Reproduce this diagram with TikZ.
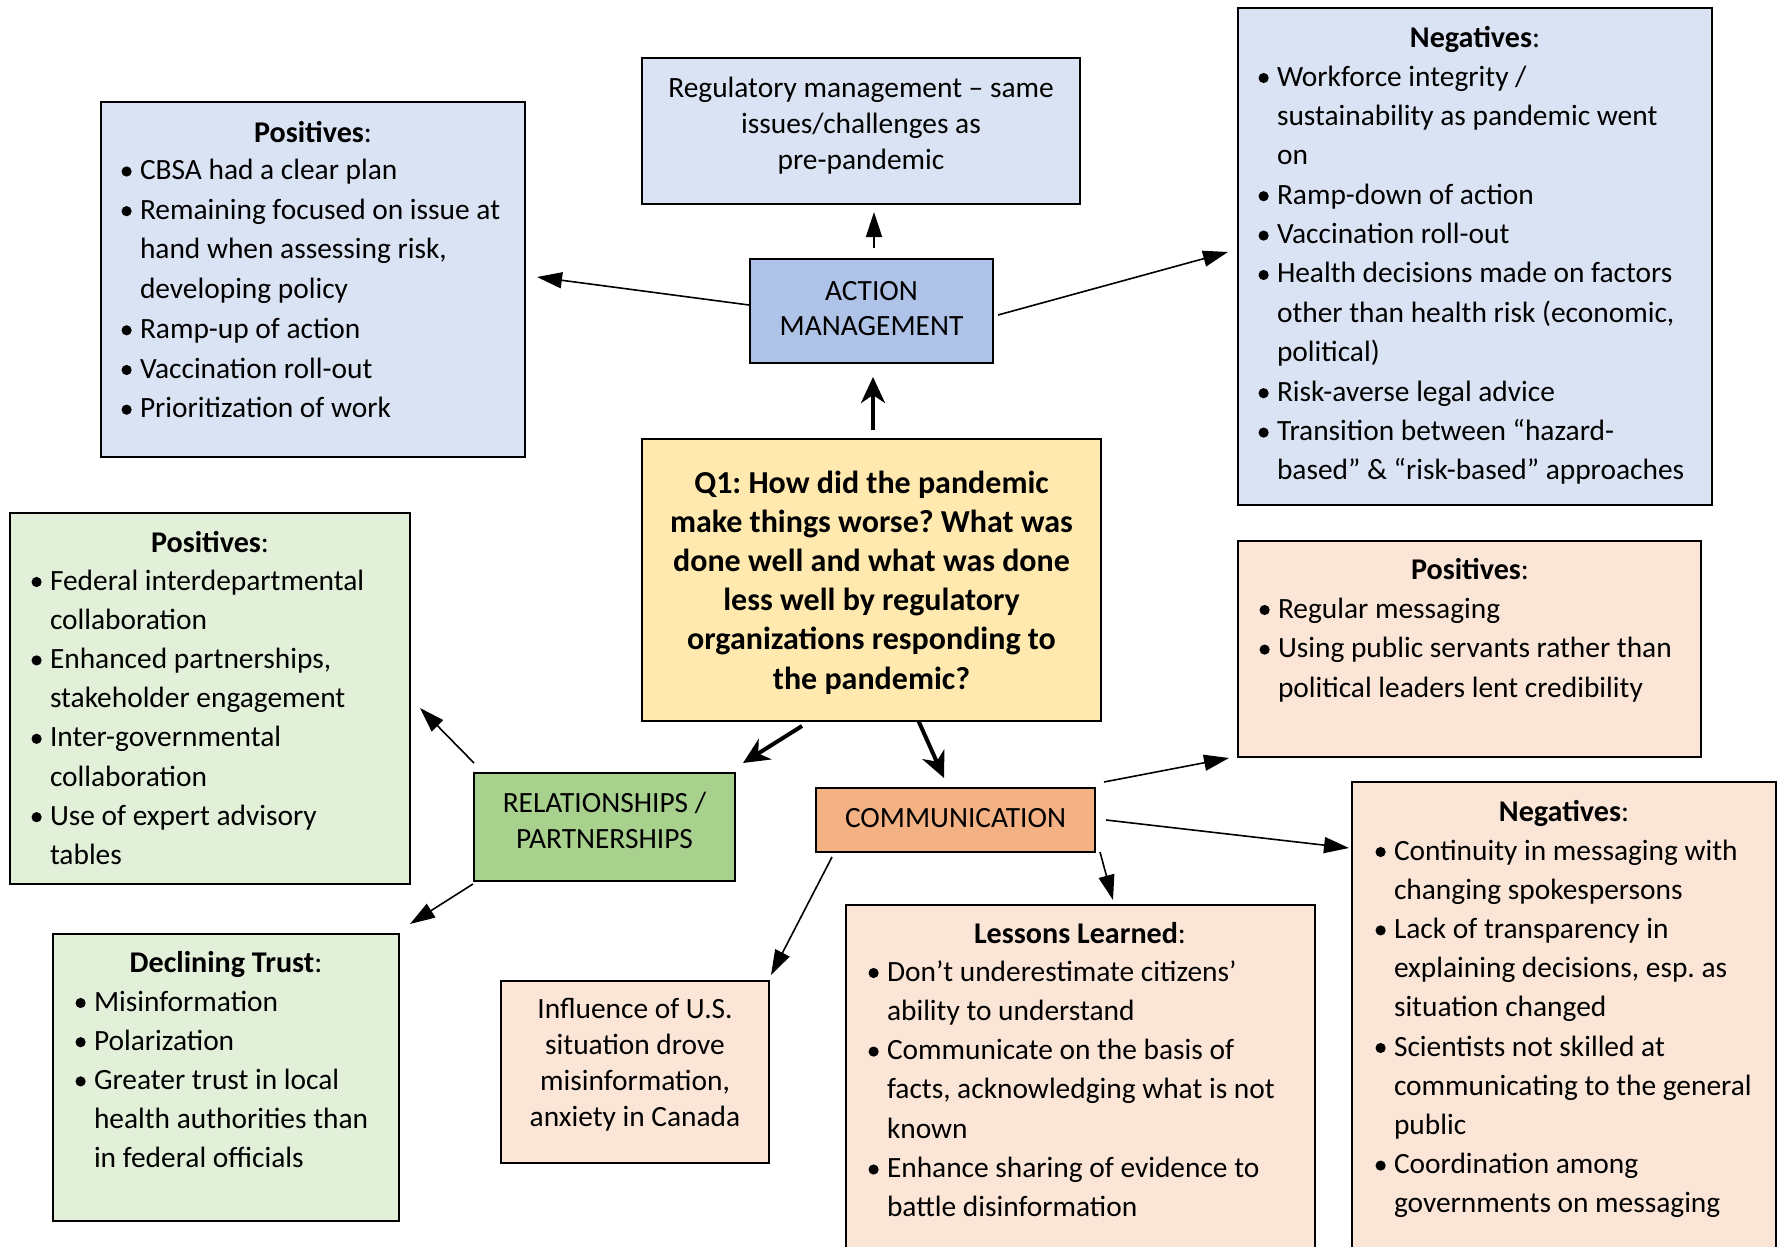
\documentclass[tikz,border=0pt]{standalone}
\usepackage{fontspec}
\setmainfont{Carlito}
\usetikzlibrary{arrows.meta}
\definecolor{lblue}{HTML}{DAE3F3}
\definecolor{mblue}{HTML}{AFC3E8}
\definecolor{lgreen}{HTML}{E2F0D9}
\definecolor{mgreen}{HTML}{A9D18E}
\definecolor{lorange}{HTML}{FBE5D6}
\definecolor{morange}{HTML}{F4B183}
\definecolor{lgold}{HTML}{FFE9AE}
\frenchspacing
\newcommand\bdot{\tikz[baseline=0pt]\fill[black] (0pt,8pt) circle[radius=5.1pt];}
\newcommand\bi{\leavevmode\hbox to 18pt{\kern-0.5pt\bdot\hfil}}
\newcommand\ci{\leavevmode\hbox to 18pt{\hfil}}
\newcommand\hd[1]{{\fontsize{30.1pt}{36pt}\selectfont\textbf{#1}:}}
\newcommand\blist[2][39.2pt]{\vtop{\hsize=800pt\parindent=0pt\parskip=0pt\baselineskip=#1\lineskiplimit=-100pt\leftskip=0pt\rightskip=0pt plus 1fil\relax #2\par}}
\newcommand\cblock[3]{\vtop{\hsize=#1\parindent=0pt\parskip=0pt\baselineskip=#2\lineskiplimit=-100pt\leftskip=0pt plus 1fil\rightskip=0pt plus 1fil\parfillskip=0pt\relax #3\par}}
\begin{document}
\begin{tikzpicture}[x=1pt,y=-1pt,
  every node/.style={inner sep=0pt, outer sep=0pt, font=\fontsize{29.4pt}{39.2pt}\selectfont},
  box/.style={draw=black, line width=2pt, rectangle, anchor=north west},
  thin arrow/.style={line width=1.6pt, -{Triangle[length=25pt,width=16pt]}},
  thick arrow/.style={line width=4pt, -{Stealth[length=26pt,width=24pt,inset=8pt]}}]
\useasboundingbox (0,0) rectangle (1781,1247);
\clip (0,0) rectangle (1781,1247);
\fill[white] (0,0) rectangle (1781,1247);
% boxes
\node[box, fill=lblue, minimum width=424pt, minimum height=355pt] (p1) at (101,102) {};
\node[box, fill=lblue, minimum width=438pt, minimum height=146pt] (reg) at (642,58) {};
\node[box, fill=mblue, minimum width=243pt, minimum height=104pt] (am) at (750,259) {};
\node[box, fill=lblue, minimum width=474pt, minimum height=497pt] (n1) at (1238,8) {};
\node[box, fill=lgold, minimum width=459pt, minimum height=282pt] (q1) at (642,439) {};
\node[box, fill=mgreen, minimum width=261pt, minimum height=108pt] (rp) at (474,773) {};
\node[box, fill=lgreen, minimum width=400pt, minimum height=371pt] (p2) at (10,513) {};
\node[box, fill=lgreen, minimum width=346pt, minimum height=287pt] (dt) at (53,934) {};
\node[box, fill=lorange, minimum width=268pt, minimum height=182pt] (inf) at (501,981) {};
\node[box, fill=morange, minimum width=279pt, minimum height=64pt] (comm) at (816,788) {};
\node[box, fill=lorange, minimum width=463pt, minimum height=216pt] (cp) at (1238,541) {};
\node[box, fill=lorange, minimum width=424pt, minimum height=480pt] (cn) at (1352,782) {};
\node[box, fill=lorange, minimum width=469pt, minimum height=360pt] (les) at (846,905) {};
% texts
\node[anchor=base] (p1h) at (313,142) {\hd{Positives}};
\node[anchor=base west] (p1t) at (122,179.5) {\blist[39.7pt]{%
\bi CBSA had a clear plan\par
\bi Remaining focused on issue at\par
\ci hand when assessing risk,\par
\ci developing policy\par
\bi Ramp-up of action\par
\bi Vaccination roll-out\par
\bi Prioritization of work}};
\node[anchor=base] (regt) at (861,97) {\cblock{430pt}{36pt}{Regulatory management – same\par issues/challenges as\par pre-pandemic}};
\node[anchor=base] (amt) at (871.5,300) {\cblock{240pt}{35pt}{ACTION\par MANAGEMENT}};
\node[anchor=base] (n1h) at (1475,48) {\hd{Negatives}};
\node[anchor=base west] (n1t) at (1259,86) {\blist[39.4pt]{%
\bi Workforce integrity /\par
\ci sustainability as pandemic went\par
\ci on\par
\bi Ramp-down of action\par
\bi Vaccination roll-out\par
\bi Health decisions made on factors\par
\ci other than health risk (economic,\par
\ci political)\par
\bi Risk-averse legal advice\par
\bi Transition between “hazard-\par
\ci based” \& “risk-based” approaches}};
\node[anchor=base] (q1t) at (871.5,493) {\fontsize{32pt}{39.2pt}\selectfont\cblock{455pt}{39.2pt}{\bfseries Q1: How did the pandemic\par make things worse? What was\par done well and what was done\par less well by regulatory\par organizations responding to\par the pandemic?}};
\node[anchor=base] (rpt) at (604.5,812) {\cblock{258pt}{36pt}{RELATIONSHIPS /\par PARTNERSHIPS}};
\node[anchor=base] (p2h) at (210,552) {\hd{Positives}};
\node[anchor=base west] (p2t) at (32,590) {\blist{%
\bi Federal interdepartmental\par
\ci collaboration\par
\bi Enhanced partnerships,\par
\ci stakeholder engagement\par
\bi Inter-governmental\par
\ci collaboration\par
\bi Use of expert advisory\par
\ci tables}};
\node[anchor=base] (dth) at (226,972) {\hd{Declining Trust}};
\node[anchor=base west] (dtt) at (76,1011) {\blist{%
\bi Misinformation\par
\bi Polarization\par
\bi Greater trust in local\par
\ci health authorities than\par
\ci in federal officials}};
\node[anchor=base] (inft) at (635,1018) {\cblock{266pt}{36.3pt}{Influence of U.S.\par situation drove\par misinformation,\par anxiety in Canada}};
\node[anchor=base] (commt) at (955.5,827) {COMMUNICATION};
\node[anchor=base] (cph) at (1470,579) {\hd{Positives}};
\node[anchor=base west] (cpt) at (1260,618) {\blist[39.6pt]{%
\bi Regular messaging\par
\bi Using public servants rather than\par
\ci political leaders lent credibility}};
\node[anchor=base] (cnh) at (1564,821) {\hd{Negatives}};
\node[anchor=base west] (cnt) at (1376,860) {\blist{%
\bi Continuity in messaging with\par
\ci changing spokespersons\par
\bi Lack of transparency in\par
\ci explaining decisions, esp. as\par
\ci situation changed\par
\bi Scientists not skilled at\par
\ci communicating to the general\par
\ci public\par
\bi Coordination among\par
\ci governments on messaging}};
\node[anchor=base] (lesh) at (1080,943) {\hd{Lessons Learned}};
\node[anchor=base west] (lest) at (869,981) {\blist[39.3pt]{%
\bi Don’t underestimate citizens’\par
\ci ability to understand\par
\bi Communicate on the basis of\par
\ci facts, acknowledging what is not\par
\ci known\par
\bi Enhance sharing of evidence to\par
\ci battle disinformation}};
% arrows
\draw[thick arrow] ([xshift=1.5pt,yshift=9pt]q1.north) -- ([xshift=1.5pt,yshift=-14pt]am.south);
\draw[thin arrow] ([xshift=2.5pt,yshift=11pt]am.north) -- ([xshift=13pt,yshift=-8pt]reg.south);
\draw[thin arrow] ([xshift=-1pt,yshift=6pt]am.west) -- ([xshift=12pt,yshift=2.5pt]p1.east);
\draw[thin arrow] ([xshift=5pt,yshift=-4pt]am.east) -- ([xshift=-10pt,yshift=4.5pt]n1.west);
\draw[thick arrow] ([xshift=-69.5pt,yshift=-5pt]q1.south) -- ([xshift=8pt,yshift=10pt]rp.north east);
\draw[thick arrow] ([xshift=47pt]q1.south) -- ([xshift=-11.5pt,yshift=10pt]comm.north);
\draw[thin arrow] ([yshift=10pt]rp.north west) -- ([xshift=10pt,yshift=-9.5pt]p2.east);
\draw[thin arrow] ([xshift=-1pt,yshift=-3pt]rp.south west) -- ([xshift=11pt,yshift=10pt]dt.north east);
\draw[thin arrow] ([xshift=16pt,yshift=-5pt]comm.south west) -- ([xshift=2pt,yshift=6pt]inf.north east);
\draw[thin arrow] ([xshift=5pt]comm.south east) -- ([xshift=32.5pt,yshift=5pt]les.north);
\draw[thin arrow] ([xshift=9pt,yshift=6pt]comm.north east) -- ([xshift=-9pt,yshift=-1pt]cp.south west);
\draw[thin arrow] ([xshift=11pt]comm.east) -- ([xshift=-3pt,yshift=-66pt]cn.north west);
\end{tikzpicture}
\end{document}
